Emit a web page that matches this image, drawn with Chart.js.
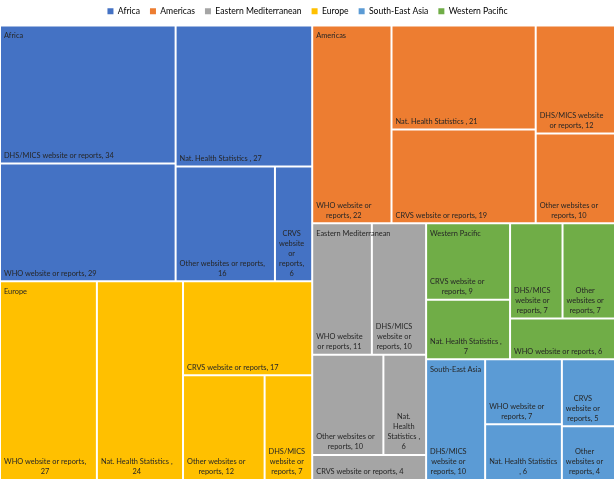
<!DOCTYPE html>
<html>
<head>
<meta charset="utf-8">
<script src="https://cdn.jsdelivr.net/npm/chart.js@4.4.1/dist/chart.umd.min.js"></script>
<style>
  html, body { margin: 0; padding: 0; background: #fff; }
</style>
</head>
<body>
<canvas id="chart" width="615" height="480"></canvas>
<script>
// Data sources used per WHO region (counts)
const regions = ['Africa', 'Americas', 'Eastern Mediterranean', 'Europe', 'South-East Asia', 'Western Pacific'];
const sources = ['WHO website or reports', 'Nat. Health Statistics ', 'DHS/MICS website or reports', 'CRVS website or reports', 'Other websites or reports'];
const africa = [29, 27, 34, 6, 16];
const americas = [22, 21, 12, 19, 10];
const easternMed = [11, 6, 10, 4, 10];
const europe = [27, 24, 7, 17, 12];
const southEastAsia = [7, 6, 10, 5, 4];
const westernPacific = [6, 7, 7, 9, 7];

const regionColors = ['#4472C4', '#ED7D31', '#A5A5A5', '#FFC000', '#5B9BD5', '#70AD47'];
const labelFont = '7.4px Lato';
const labelColor = '#262626';
const TARGET = 0.79; // preferred width/height of a cell when building strips

// flatten into one dataset, remembering the region of each cell
const regionValues = [africa, americas, easternMed, europe, southEastAsia, westernPacific];
const cellValues = [], cellGroups = [], cellNames = [], cellColors = [];
regionValues.forEach((vals, r) => {
    vals.forEach((v, s) => {
        cellValues.push(v);
        cellGroups.push(r);
        cellNames.push(sources[s]);
        cellColors.push(regionColors[r]);
    });
});

function sortDesc(items) {
    return items.slice().sort((a, b) => b.v - a.v);
}

// squarified strips, laid along the short side of what is left
function squarify(items, rect) {
    const out = [];
    let { x, y, w, h } = rect;
    let rest = items.slice();
    const total = rest.reduce((a, b) => a + b.v, 0);
    const unit = (w * h) / total;

    function worst(strip, col, len) {
        const s = strip.reduce((a, b) => a + b.v, 0);
        const thick = s * unit / len;
        let m = 0;
        strip.forEach(it => {
            const ext = it.v * unit / thick;
            const r = col ? thick / ext : ext / thick;
            m = Math.max(m, r / TARGET, TARGET / r);
        });
        return m;
    }

    while (rest.length) {
        const col = w >= h;
        const len = col ? h : w;
        let n = 1;
        let best = worst(rest.slice(0, 1), col, len);
        while (n < rest.length) {
            const next = worst(rest.slice(0, n + 1), col, len);
            if (next <= best) { best = next; n++; } else break;
        }
        const strip = rest.slice(0, n);
        const s = strip.reduce((a, b) => a + b.v, 0);
        const thick = s * unit / len;
        let pos = col ? y : x;
        strip.forEach(it => {
            const ext = it.v * unit / thick;
            if (col) out.push({ key: it.key, x: x, y: pos, w: thick, h: ext });
            else out.push({ key: it.key, x: pos, y: y, w: ext, h: thick });
            pos += ext;
        });
        if (col) { x += thick; w -= thick; } else { y += thick; h -= thick; }
        rest = rest.slice(n);
    }
    return out;
}

// bar elements placed as treemap cells
class TreemapController extends Chart.BarController {
    static id = 'treemap';

    updateElements(rects, start, count, mode) {
        const meta = this._cachedMeta;
        const ds = this.getDataset();
        const xs = meta.xScale, ys = meta.yScale;
        const xa = xs.getPixelForValue(0), xb = xs.getPixelForValue(1);
        const ya = ys.getPixelForValue(0), yb = ys.getPixelForValue(1);
        const area = { x: Math.min(xa, xb), y: Math.min(ya, yb), w: Math.abs(xb - xa), h: Math.abs(yb - ya) };

        const values = ds.data, groups = ds.groups;
        const tops = ds.regionNames.map((name, r) => ({
            key: r,
            v: values.reduce((acc, v, i) => acc + (groups[i] === r ? v : 0), 0)
        }));
        const regionRects = squarify(sortDesc(tops), area);
        this.regionRects = regionRects;

        const cells = [];
        regionRects.forEach(rr => {
            const leaves = values.map((v, i) => ({ key: i, v: v })).filter(it => groups[it.key] === rr.key);
            squarify(sortDesc(leaves), rr).forEach(c => { cells[c.key] = c; });
        });

        for (let i = start; i < start + count; i++) {
            const c = cells[i];
            this.updateElement(rects[i], i, {
                x: c.x + c.w / 2,
                y: c.y,
                base: c.y + c.h,
                width: c.w,
                height: c.h,
                horizontal: false,
                borderSkipped: {},
                inflateAmount: 0,
                enableBorderRadius: false,
                options: this.resolveDataElementOptions(i, mode)
            }, mode);
        }
    }
}
Chart.register(TreemapController);

function wrapText(ctx, text, maxW) {
    const words = text.split(' ');
    const lines = [];
    let line = '';
    words.forEach(wd => {
        const test = line ? line + ' ' + wd : wd;
        if (!line || ctx.measureText(test).width <= maxW) line = test;
        else { lines.push(line); line = wd; }
    });
    if (line) lines.push(line);
    return lines;
}

// labels: name + value at the bottom left, region name at the top left
const cellLabels = {
    id: 'cellLabels',
    afterDatasetsDraw(chart) {
        const ctx = chart.ctx;
        const meta = chart.getDatasetMeta(0);
        const ds = chart.data.datasets[0];
        ctx.save();
        ctx.font = labelFont;
        ctx.fillStyle = labelColor;
        ctx.textBaseline = 'middle';
        ctx.textAlign = 'center';
        meta.data.forEach((el, i) => {
            const left = el.x - el.width / 2;
            const bottom = el.base;
            const lines = wrapText(ctx, ds.names[i] + ', ' + ds.data[i], el.width - 8);
            const blockW = Math.max(...lines.map(l => ctx.measureText(l).width));
            const cx = left + 4 + blockW / 2;
            lines.forEach((l, k) => {
                ctx.fillText(l, cx, bottom - 8 - (lines.length - 1 - k) * 10);
            });
        });
        ctx.textAlign = 'left';
        (meta.controller.regionRects || []).forEach(rr => {
            ctx.fillText(regions[rr.key], rr.x + 4, rr.y + 10);
        });
        ctx.restore();
    }
};

const ctx = document.getElementById('chart');
new Chart(ctx, {
    type: 'treemap',
    data: {
        labels: cellNames,
        datasets: [{
            data: cellValues,
            groups: cellGroups,
            names: cellNames,
            regionNames: regions,
            backgroundColor: cellColors,
            borderColor: '#ffffff',
            borderWidth: 1,
            borderRadius: 0
        }]
    },
    options: {
        responsive: false,
        animation: false,
        events: [],
        layout: { padding: { top: -3, left: 0, right: 0, bottom: 0 } },
        scales: {
            x: { type: 'linear', display: false, min: 0, max: 1, offset: false, grid: { offset: false } },
            y: { type: 'linear', display: false, min: 0, max: 1, offset: false, grid: { offset: false } }
        },
        plugins: {
            legend: {
                position: 'top',
                labels: {
                    boxWidth: 6,
                    boxHeight: 6,
                    padding: 10,
                    color: '#595959',
                    font: { family: 'Lato', size: 8.6 },
                    generateLabels: () => regions.map((r, i) => ({
                        text: r,
                        fillStyle: regionColors[i],
                        strokeStyle: regionColors[i],
                        lineWidth: 0,
                        hidden: false,
                        index: i
                    }))
                }
            },
            tooltip: { enabled: false }
        }
    },
    plugins: [cellLabels]
});
</script>
</body>
</html>
